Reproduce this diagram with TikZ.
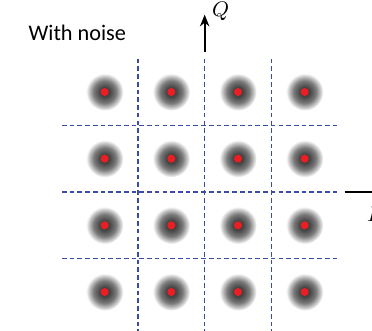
\documentclass[tikz,border=0pt]{standalone}
\usepackage{fontspec}
\newfontfamily\labelfont{Carlito}
\usetikzlibrary{arrows.meta}
\pgfdeclareradialshading{blob}{\pgfpoint{0bp}{0bp}}{color(0bp)=(black!80); color(7bp)=(black!72); color(15bp)=(black!52); color(21bp)=(black!22); color(25bp)=(white); color(50bp)=(white)}
\definecolor{gridblue}{RGB}{60,75,165}
\definecolor{dotred}{RGB}{235,30,35}
\begin{document}
\begin{tikzpicture}[x=1cm, y=1cm, line join=round, >={Stealth[length=5pt,width=4pt]}]
				\useasboundingbox (-3.07,-2.08) rectangle (2.51,2.88);
				\path
				(0,2.1) coordinate (Qs)
				(0,2.66) coordinate (Qe)
				(2.1,0) coordinate (Is)
				(2.7,0) coordinate (Ie)
				;
				\foreach \t in {-1,0,1}{
					\draw[gridblue, line width=0.5pt, dash pattern=on 2pt off 1.3pt] (\t,2.0)--(\t,-2.2);
					\draw[gridblue, line width=0.5pt, dash pattern=on 2pt off 1.3pt] (-2.14,\t)--(2.02,\t);
				}
				\foreach \x in {-1.5,-0.5,0.5,1.5}
				\foreach \y in {-1.5,-0.5,0.5,1.5}{
					\shade[shading=blob] (\x,\y) circle (.28);
					\fill[dotred] (\x,\y) circle (.06);
				}
				\draw[->, line width=0.8pt] (Qs)--(Qe);
				\node[font=\small, inner sep=0pt] (Qlbl) at (0.24,2.71) {$Q$};
				\draw[line width=0.8pt] (Is)--(Ie);
				\node[font=\small] (Ilbl) at (2.52,-0.34) {$I$};
				\node[font=\labelfont\fontsize{9.5}{11}\selectfont] (title) at (-1.91,2.38) {With noise};
		\end{tikzpicture}
\end{document}
